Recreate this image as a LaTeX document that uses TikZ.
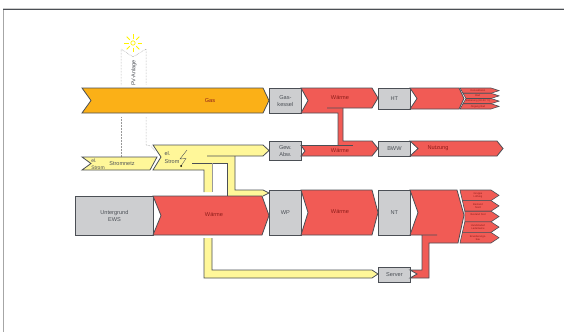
\documentclass[tikz,border=0pt]{standalone}
\usepackage{fontspec}
\setmainfont{Liberation Sans}
\definecolor{gasorange}{HTML}{FBB017}
\definecolor{heatred}{HTML}{F15B55}
\definecolor{powyellow}{HTML}{FFF799}
\definecolor{sunyellow}{HTML}{FFF200}
\definecolor{boxgrey}{HTML}{CDCED0}
\definecolor{edgegrey}{HTML}{4B4F55}
\definecolor{labred}{HTML}{8E1D1A}
\tikzset{
  flow/.style={draw=edgegrey,line width=.8pt,line join=miter},
  unit/.style={flow,fill=boxgrey,inner sep=0pt,align=center,font=\fontsize{5.6}{7}\selectfont,text=edgegrey,anchor=north west},
  lab/.style={font=\fontsize{5.6}{7}\selectfont,text=labred,align=center},
  tiny/.style={font=\fontsize{2.6}{3}\selectfont,text=labred,align=center},
  volt/.style={font=\fontsize{5.5}{6.5}\selectfont,text=edgegrey,align=left},
  pvline/.style={draw=gray!80,densely dotted,line width=.5pt}
}
\begin{document}
\begin{tikzpicture}[x=1pt,y=-1pt]
\useasboundingbox (0,0) rectangle (564,332);

% page edge
\draw[gray!70,line width=1.5pt] (3.5,9) -- (3.5,332);
\draw[gray!40,line width=.8pt] (3,8) -- (564,8);
\draw[edgegrey,line width=.8pt] (3,9.2) -- (564,9.2);

% sun and PV
\foreach \a in {0,45,...,315}
  \draw[sunyellow,line width=.8pt] (133,43)+(\a:4.5) -- +(\a:9);
\draw[sunyellow,line width=.7pt] (133,43) circle (2.2);
\draw[pvline] (121,85) -- (121,49) -- (133,57) -- (146,49) -- (146,85);
\draw[pvline] (121,117) -- (121,157);
\draw[pvline] (146,117) -- (146,145) -- (151,146) -- (155,151);
\node[volt,rotate=90] (pv) at (134,73) {PV-Anlage};

% gas
\draw[flow,fill=gasorange] (82,88) -- (263,88) -- (269,100.5) -- (263,113) -- (82,113) -- (91,100.5) -- cycle;
\node[lab] (gas) at (210,100.5) {Gas};

% yellow, lower run first
\fill[powyellow] (204,238) -- (212,238) -- (212,270) -- (372,270) -- (378,274) -- (372,278) -- (204,278) -- cycle;
\draw[flow] (204,238) -- (204,278) -- (372,278) -- (378,274) -- (372,270) -- (212,270) -- (212,238);
% yellow, upper part
\fill[powyellow] (153,145) -- (263,145) -- (269,150.5) -- (263,156) -- (235,156) -- (235,190) -- (263,190) -- (269,193) -- (263,196) -- (227,196) -- (227,163) -- (212,163) -- (212,192) -- (204,192) -- (204,170) -- (153,170) -- (161,157) -- cycle;
\draw[flow] (204,192) -- (204,170) -- (153,170) -- (161,157) -- (153,145) -- (263,145) -- (269,150.5) -- (263,156) -- (207,156);
\draw[flow] (235,156) -- (235,190) -- (263,190) -- (269,193) -- (263,196);
\draw[flow] (227,196) -- (227,163) -- (192,163);
\draw[flow,draw=gray!80] (212,163) -- (212,192);
\draw[edgegrey,line width=.4pt] (187,150) -- (180,159) -- (186,158.5) -- (181,166);
\fill[black] (181,166) circle (1);
\node[volt] (strom) at (172,157.5) {el.\\[1pt]Strom};

% grid supply
\draw[flow,fill=powyellow] (82,157) -- (157,157) -- (150,170) -- (82,170) -- (91,163.5) -- cycle;
\node[volt,font=\fontsize{5}{6}\selectfont] (netzel) at (98,164) {el.\\[1pt]Strom};
\node[volt] (netz) at (122,164) {Stromnetz};

% ground loop
\node[unit,minimum width=78pt,minimum height=39pt] (ews) at (75,196) {Untergrund\\EWS};
\draw[flow,fill=heatred] (153,196) -- (262,196) -- (269,215.5) -- (262,235) -- (153,235) -- (161,215.5) -- cycle;
\node[lab] (waermeews) at (214,215) {Wärme};

% units middle column
\node[unit,minimum width=32pt,minimum height=25pt] (kessel) at (269,88) {Gas-\\kessel};
\node[unit,minimum width=32pt,minimum height=19pt] (gew) at (269,141) {Gew.\\Abw.};
\node[unit,minimum width=32pt,minimum height=45pt] (wp) at (269,190) {WP};

% red top, link down to the second one
\fill[heatred] (301,88) -- (372,88) -- (378,98) -- (372,108) -- (343,108) -- (343,141) -- (372,141) -- (378,148.5) -- (372,156) -- (301,156) -- (305,151) -- (301,145.5) -- (338,145.5) -- (338,113) -- (301,113) -- (308,100.5) -- cycle;
\draw[flow] (301,113) -- (308,100.5) -- (301,88) -- (372,88) -- (378,98) -- (372,108) -- (327,108);
\draw[flow] (301,113) -- (338,113) -- (338,145.5) -- (301,145.5) -- (305,151) -- (301,156) -- (372,156) -- (378,148.5) -- (372,141) -- (343,141) -- (343,108);
\draw[flow] (338,145.5) -- (353,145.5);
\node[lab] (waerme) at (340,98) {Wärme};
\node[lab] (waermeb) at (340,151) {Wärme};

% HT
\node[unit,minimum width=32pt,minimum height=21pt] (ht) at (378,88) {HT};
\draw[flow,fill=heatred] (410,88) -- (459,88) -- (464,98.5) -- (459,109) -- (410,109) -- (417,98.5) -- cycle;
\foreach \y/\l/\m/\t in {88/460/463/Konvektoren,93.25/463/466/Bad / Lüftung (HT),98.5/466/463/Sanierung (40-50 °C),103.75/463/460/Abgang Bad}
  \draw[flow,line width=.6pt,fill=heatred] (\l,\y) -- (491,\y) -- (499,\y+2.6) -- (491,\y+5.25) -- (\m,\y+5.25) -- cycle
    node[tiny] at (478,\y+2.6) {\t};

% BWW
\node[unit,minimum width=32pt,minimum height=15pt] (bww) at (378,141) {BWW};
\draw[flow,fill=heatred] (410,141) -- (497,141) -- (503,148.5) -- (497,156) -- (410,156) -- (418,148.5) -- cycle;
\node[lab] (nutzung) at (438,148) {Nutzung};

% WP to NT
\draw[flow,fill=heatred] (301,190) -- (372,190) -- (378,212.5) -- (372,235) -- (301,235) -- (308,212.5) -- cycle;
\node[lab] (waermewp) at (340,212) {Wärme};

% NT with the server return
\node[unit,minimum width=32pt,minimum height=45pt] (nt) at (378,190) {NT};
\node[unit,minimum width=32pt,minimum height=15pt] (server) at (378,267) {Server};
\fill[heatred] (410,190) -- (457,190) -- (464,215) -- (458,243) -- (429,243) -- (429,278) -- (410,278) -- (417,274) -- (410,270) -- (422,270) -- (422,235) -- (410,235) -- (418,212.5) -- cycle;
\draw[flow] (437,235) -- (410,235) -- (418,212.5) -- (410,190) -- (457,190) -- (464,215) -- (458,243) -- (429,243) -- (429,278) -- (410,278) -- (417,274) -- (410,270) -- (422,270) -- (422,235);
\foreach \y/\l/\m/\a/\b in {190/460/462.4/Gruppe/Lüftung,200.6/462.4/464.8/Bestand/Nord,211.2/464.8/464.8/Bestand Süd/,221.8/464.8/462.4/Hundstadert/Laderäume,232.4/462.4/460/Erweiterungs-/bau}
  \draw[flow,line width=.6pt,fill=heatred] (\l,\y) -- (491,\y) -- (499,\y+5.3) -- (491,\y+10.6) -- (\m,\y+10.6) -- cycle
    node[tiny] at (478,\y+5.3) {\a\\\b};

\end{tikzpicture}
\end{document}
